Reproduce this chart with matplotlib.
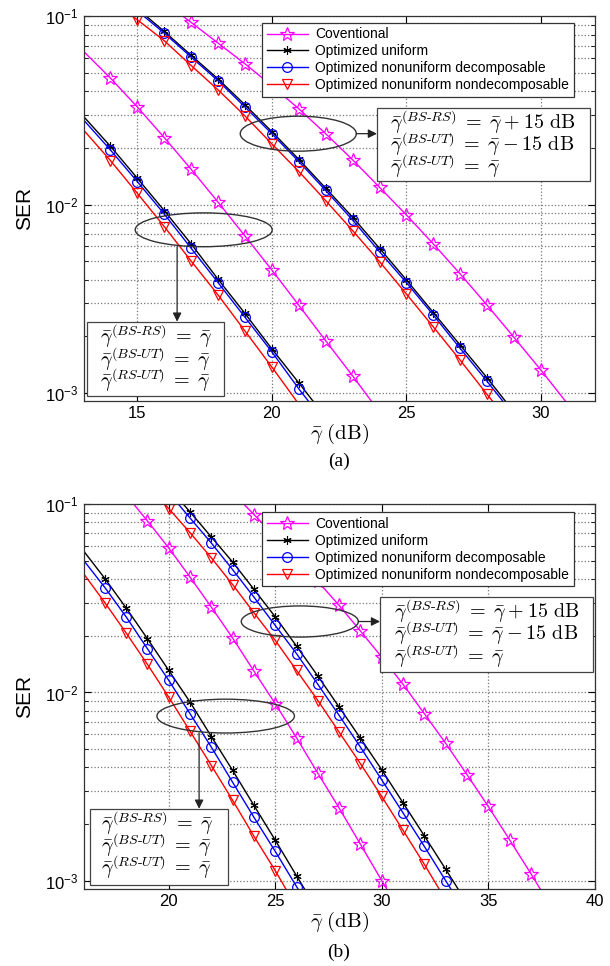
import matplotlib
matplotlib.use('Agg')
from matplotlib import pyplot as plt
from matplotlib.patches import Ellipse, Rectangle
from matplotlib.ticker import NullFormatter, LogLocator
plt.rcParams['font.family'] = ['Liberation Sans', 'DejaVu Sans']
plt.rcParams['mathtext.fontset'] = 'dejavusans'

labels = ["Coventional", "Optimized uniform",
          "Optimized nonuniform decomposable", "Optimized nonuniform nondecomposable"]

### (a) 左组: 三条链路平均SNR相同
a1_conv_x = list(range(13, 25))
a1_conv = [0.0652, 0.0470, 0.0330, 0.0227, 0.0154, 0.0103, 0.00681, 0.00449, 0.00292, 0.00189, 0.00123, 0.00079]
a1_unif_x = list(range(13, 23))
a1_unif = [0.0294, 0.0204, 0.0138, 0.00929, 0.00618, 0.00401, 0.00264, 0.00171, 0.00113, 0.00074]
a1_dec_x = list(range(13, 23))
a1_dec = [0.0282, 0.0195, 0.01324, 0.00891, 0.00586, 0.00385, 0.00252, 0.00165, 0.00105, 0.00069]
a1_nondec_x = list(range(13, 22))
a1_nondec = [0.0249, 0.01714, 0.01148, 0.00764, 0.00501, 0.00331, 0.00213, 0.00137, 0.00087]

### (a) 右组: BS-RS +15 dB, BS-UT -15 dB
a2_conv_x = list(range(16, 32))
a2_conv = [0.119, 0.0929, 0.0721, 0.0560, 0.0428, 0.0323, 0.0238, 0.0173, 0.01236, 0.00881,
           0.00618, 0.00428, 0.00292, 0.00197, 0.00132, 0.00087]
a2_unif_x = list(range(15, 30))
a2_unif = [0.110, 0.0832, 0.0621, 0.0465, 0.0339, 0.0244, 0.0174, 0.01222, 0.00857, 0.00586,
           0.00398, 0.00267, 0.00179, 0.00120, 0.00079]
a2_dec_x = list(range(15, 30))
a2_dec = [0.107, 0.0815, 0.0608, 0.0455, 0.0330, 0.0238, 0.01694, 0.01189, 0.00828, 0.00562,
          0.00385, 0.00259, 0.00172, 0.00115, 0.00076]
a2_nondec_x = list(range(14, 30))
a2_nondec = [0.123, 0.0959, 0.0743, 0.0548, 0.0407, 0.0296, 0.0210, 0.0150, 0.0105, 0.00728,
             0.00498, 0.00335, 0.00224, 0.00149, 0.00098, 0.00065]

### (b) 左组
b1_conv_x = list(range(18, 32))
b1_conv = [0.112, 0.0815, 0.0586, 0.0410, 0.0284, 0.01945, 0.01297, 0.00871, 0.00574, 0.00372,
           0.00243, 0.00156, 0.00100, 0.00065]
b1_unif_x = list(range(16, 28))
b1_unif = [0.0565, 0.0403, 0.0281, 0.01928, 0.01309, 0.00889, 0.00583, 0.00385, 0.00251, 0.00164,
           0.00106, 0.00069]
b1_dec_x = list(range(16, 28))
b1_dec = [0.0504, 0.0361, 0.0252, 0.01706, 0.01159, 0.00771, 0.00512, 0.00333, 0.00217, 0.00143,
          0.00093, 0.00060]
b1_nondec_x = list(range(16, 27))
b1_nondec = [0.0428, 0.0300, 0.0207, 0.01409, 0.00944, 0.00622, 0.00409, 0.00267, 0.00172, 0.00113,
             0.00072]

### (b) 右组
b2_conv_x = list(range(23, 39))
b2_conv = [0.115, 0.0881, 0.0676, 0.0513, 0.0389, 0.0290, 0.0212, 0.0154, 0.01104, 0.00771,
           0.00537, 0.00366, 0.00248, 0.00165, 0.00109, 0.00071]
b2_unif_x = list(range(20, 35))
b2_unif = [0.123, 0.0910, 0.0670, 0.0493, 0.0353, 0.0252, 0.01762, 0.01222, 0.00836, 0.00571,
           0.00388, 0.00259, 0.00173, 0.00115, 0.00076]
b2_dec_x = list(range(20, 35))
b2_dec = [0.115, 0.0845, 0.0622, 0.0449, 0.0321, 0.0227, 0.01607, 0.01104, 0.00755, 0.00512,
          0.00343, 0.00229, 0.00152, 0.00100, 0.00066]
b2_nondec_x = list(range(19, 34))
b2_nondec = [0.126, 0.0948, 0.0706, 0.0519, 0.0374, 0.0265, 0.0189, 0.01309, 0.00906, 0.00615,
             0.00418, 0.00280, 0.00185, 0.00122, 0.00079]

styles = [
    dict(color='#FF00FF', marker='*', markersize=10, mfc='none', markeredgewidth=0.9),
    dict(color='black', marker=(6, 2, 0), markersize=6, markeredgewidth=0.8),
    dict(color='#0000FF', marker='o', markersize=7, mfc='none', markeredgewidth=0.9),
    dict(color='#FF0000', marker='v', markersize=7.5, mfc='none', markeredgewidth=0.9),
]

# 上标挂在空组上, 避免被 bar 抬得太高
lines_same = [r'$\bar{\gamma}{}^{(BS\text{-}RS)}\;=\;\bar{\gamma}$',
              r'$\bar{\gamma}{}^{(BS\text{-}UT)}\;=\;\bar{\gamma}$',
              r'$\bar{\gamma}{}^{(RS\text{-}UT)}\;=\;\bar{\gamma}$']
lines_diff = [r'$\bar{\gamma}{}^{(BS\text{-}RS)}\;=\;\bar{\gamma}\:+\:15\ \mathrm{dB}$',
              r'$\bar{\gamma}{}^{(BS\text{-}UT)}\;=\;\bar{\gamma}\:-\:15\ \mathrm{dB}$',
              r'$\bar{\gamma}{}^{(RS\text{-}UT)}\;=\;\bar{\gamma}$']


def draw_panel(ax, group1, group2, xlim, xticks, ell1, ell2, box1, box2, leg_top):
    for series in (group1, group2):
        for k, (x, y) in enumerate(series):
            ax.plot(x, y, linewidth=1, markevery=slice(1, -1),
                    label=labels[k] if series is group1 else None, **styles[k])
    ax.set_yscale('log')
    ax.set_xlim(*xlim)
    ax.set_ylim(0.000906, 0.1)
    ax.set_xticks(xticks)
    ax.yaxis.set_major_locator(LogLocator(base=10, numticks=10))
    ax.yaxis.set_minor_locator(LogLocator(base=10, subs=range(2, 10), numticks=10))
    ax.yaxis.set_minor_formatter(NullFormatter())
    ax.grid(True, which='major', linestyle=':', color='#777777', linewidth=0.9)
    ax.grid(True, which='minor', axis='y', linestyle=':', color='#777777', linewidth=0.9)
    ax.tick_params(which='both', direction='in', top=True, right=True, labelsize=12)
    ax.tick_params(which='major', length=5)
    ax.tick_params(which='minor', length=3)
    for s in ax.spines.values():
        s.set_linewidth(0.9)
        s.set_color('#333333')
    ax.set_ylabel('SER', fontsize=15)
    ax.yaxis.set_label_coords(-0.097, 0.5)
    ax.set_xlabel(r'$\bar{\gamma}\ \mathrm{(dB)}$', fontsize=15, math_fontfamily='cm', labelpad=1)
    leg = ax.legend(loc='upper left', bbox_to_anchor=(0.350, leg_top), borderaxespad=0,
                    fontsize=10, handlelength=2.9, handletextpad=0.55, labelspacing=0.2,
                    borderpad=0.35, fancybox=False, framealpha=1, edgecolor='#333333')
    leg.get_frame().set_linewidth(0.9)
    leg.set_zorder(10)
    # 椭圆和箭头
    for (cx, cy, w, h) in (ell1, ell2):
        ax.add_patch(Ellipse((cx, cy), w, h, transform=ax.transAxes, fill=False,
                             edgecolor='#333333', linewidth=1, zorder=6))
    ax.annotate('', xy=(ell1[0] - 0.052, box1[0][3]), xytext=(ell1[0] - 0.052, ell1[1] - ell1[3] / 2),
                xycoords='axes fraction',
                arrowprops=dict(arrowstyle='-|>', color='#222222', lw=0.9, mutation_scale=13,
                                shrinkA=0, shrinkB=0), zorder=7)
    ax.annotate('', xy=(box2[0][0], ell2[1]), xytext=(ell2[0] + ell2[2] / 2, ell2[1]),
                xycoords='axes fraction',
                arrowprops=dict(arrowstyle='-|>', color='#222222', lw=0.9, mutation_scale=13,
                                shrinkA=0, shrinkB=0), zorder=7)
    # 文本框, 逐行放置
    for ((x0, y0, x1, y1), tx, ys), txt in ((box1, lines_same), (box2, lines_diff)):
        ax.add_patch(Rectangle((x0, y0), x1 - x0, y1 - y0, transform=ax.transAxes,
                               facecolor='white', edgecolor='#444444', linewidth=0.9, zorder=8))
        for t, yy in zip(txt, ys):
            ax.text(tx, yy, t, transform=ax.transAxes, fontsize=14.5,
                    math_fontfamily='cm', va='baseline', ha='left', zorder=9)


fig = plt.figure(figsize=(6.1, 9.66), dpi=100)
ax1 = fig.add_axes([0.137, 0.585, 0.838, 0.398])
ax2 = fig.add_axes([0.137, 0.080, 0.838, 0.398])

draw_panel(ax1,
           [(a1_conv_x, a1_conv), (a1_unif_x, a1_unif), (a1_dec_x, a1_dec), (a1_nondec_x, a1_nondec)],
           [(a2_conv_x, a2_conv), (a2_unif_x, a2_unif), (a2_dec_x, a2_dec), (a2_nondec_x, a2_nondec)],
           (13, 32), [15, 20, 25, 30],
           (0.235, 0.445, 0.268, 0.088), (0.420, 0.695, 0.227, 0.091),
           ((0.007, 0.012, 0.274, 0.206), 0.032, [0.150, 0.092, 0.035]),
           ((0.574, 0.571, 0.991, 0.762), 0.600, [0.706, 0.649, 0.592]), 0.984)

draw_panel(ax2,
           [(b1_conv_x, b1_conv), (b1_unif_x, b1_unif), (b1_dec_x, b1_dec), (b1_nondec_x, b1_nondec)],
           [(b2_conv_x, b2_conv), (b2_unif_x, b2_unif), (b2_dec_x, b2_dec), (b2_nondec_x, b2_nondec)],
           (16, 40), [20, 25, 30, 35, 40],
           (0.278, 0.449, 0.269, 0.088), (0.423, 0.695, 0.229, 0.081),
           ((0.012, 0.010, 0.283, 0.208), 0.034, [0.152, 0.095, 0.038]),
           ((0.580, 0.563, 0.996, 0.758), 0.608, [0.703, 0.646, 0.588]), 0.979)

fig.text(0.555, 0.522, '(a)', ha='center', va='center', fontsize=14, family='Liberation Serif')
fig.text(0.555, 0.0145, '(b)', ha='center', va='center', fontsize=14, family='Liberation Serif')

fig.savefig('out.png', dpi=100)
